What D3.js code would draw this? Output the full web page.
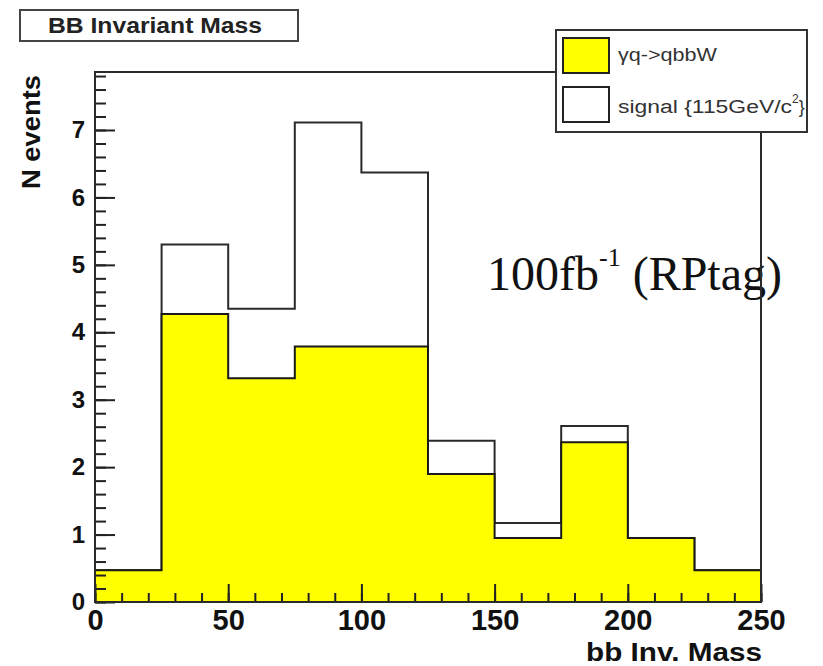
<!DOCTYPE html>
<html>
<head>
<meta charset="utf-8">
<script src="https://cdn.jsdelivr.net/npm/d3@7"></script>
<style>
  body { margin: 0; background: #fff; }
  svg { display: block; font-family: "Liberation Sans", Arial, sans-serif; }
</style>
</head>
<body>
<div id="chart"></div>
<script>
// bb invariant mass histogram, 25 GeV bins
var binEdges = [0, 25, 50, 75, 100, 125, 150, 175, 200, 225, 250];
var background = [0.47, 4.27, 3.32, 3.79, 3.79, 1.90, 0.95, 2.37, 0.95, 0.47];   // gamma q -> qbbW
var signal = [0, 1.03, 1.03, 3.32, 2.58, 0.49, 0.22, 0.24, 0, 0];             // stacked on top
var xTickLabels = [0, 50, 100, 150, 200, 250];
var yTickLabels = [0, 1, 2, 3, 4, 5, 6, 7];
var legendLabels = ["\u03b3q->qbbW", "signal {115GeV/c"];

var W = 823, H = 666;
var frame = { left: 95, right: 761, top: 72, bottom: 602 };

var svg = d3.select("#chart").append("svg")
    .attr("width", W).attr("height", H);

var x = d3.scaleLinear().domain([0, 250]).range([frame.left, frame.right]);
var y = d3.scaleLinear().domain([0, 7.86]).range([frame.bottom, frame.top]);

// step points: one per lower edge plus the closing edge
function steps(values) {
    var pts = values.map(function(v, i) { return { e: binEdges[i], v: v }; });
    pts.push({ e: binEdges[binEdges.length - 1], v: values[values.length - 1] });
    return pts;
}
var total = background.map(function(b, i) { return b + signal[i]; });

var area = d3.area()
    .x(function(d) { return x(d.e); })
    .y0(y(0))
    .y1(function(d) { return y(d.v); })
    .curve(d3.curveStepAfter);

svg.append("path").datum(steps(total))
    .attr("d", area).attr("fill", "#fff")
    .attr("stroke", "#2a2a2a").attr("stroke-width", 2);
svg.append("path").datum(steps(background))
    .attr("d", area).attr("fill", "#ffff00")
    .attr("stroke", "#1a1a1a").attr("stroke-width", 2);

// axes, ticks pointing into the frame
var yMinor = svg.append("g").attr("transform", "translate(" + frame.left + ",0)")
    .call(d3.axisLeft(y).tickValues(y.ticks(40)).tickSize(-11).tickFormat(""));
var yMajor = svg.append("g").attr("transform", "translate(" + frame.left + ",0)")
    .call(d3.axisLeft(y).tickValues(yTickLabels).tickSize(-20).tickPadding(10).tickFormat(d3.format("d")));
var xMinor = svg.append("g").attr("transform", "translate(0," + frame.bottom + ")")
    .call(d3.axisBottom(x).tickValues(x.ticks(25)).tickSize(-9).tickFormat(""));
var xMajor = svg.append("g").attr("transform", "translate(0," + frame.bottom + ")")
    .call(d3.axisBottom(x).tickValues(xTickLabels).tickSize(-18).tickPadding(7).tickFormat(d3.format("d")));

[yMinor, yMajor, xMinor, xMajor].forEach(function(g) {
    g.selectAll(".domain").remove();
    g.selectAll(".tick line").attr("stroke", "#222").attr("stroke-width", 2);
});
yMajor.selectAll(".tick text")
    .attr("font-size", 24).attr("font-weight", "bold").attr("fill", "#111")
    .attr("font-family", "Liberation Sans, Arial, sans-serif");
xMajor.selectAll(".tick text")
    .attr("font-size", 29).attr("font-weight", "bold").attr("fill", "#111")
    .attr("font-family", "Liberation Sans, Arial, sans-serif");

// luminosity note
var note = svg.append("text")
    .attr("x", 487).attr("y", 290)
    .attr("font-family", "Liberation Serif, Times New Roman, serif")
    .attr("font-size", 48).attr("fill", "#111");
note.append("tspan").text("100fb");
note.append("tspan").attr("font-size", 26).attr("dy", -24).text("-1");
note.append("tspan").attr("dy", 24).text(" (RPtag)");

// frame
svg.append("path")
    .attr("d", "M" + frame.left + "," + frame.bottom + "V" + frame.top + "H" + frame.right + "V" + frame.bottom + "H" + frame.left)
    .attr("fill", "none").attr("stroke", "#2a2a2a").attr("stroke-width", 2);

// axis titles
svg.append("text")
    .attr("transform", "translate(40,75) rotate(-90)")
    .attr("text-anchor", "end")
    .attr("font-size", 25).attr("font-weight", "bold").attr("fill", "#111")
    .attr("textLength", 114).attr("lengthAdjust", "spacingAndGlyphs")
    .text("N events");
svg.append("text")
    .attr("x", 762).attr("y", 661)
    .attr("text-anchor", "end")
    .attr("font-size", 26).attr("font-weight", "bold").attr("fill", "#111")
    .attr("textLength", 176).attr("lengthAdjust", "spacingAndGlyphs")
    .text("bb Inv. Mass");

// title box
svg.append("rect").attr("x", 20).attr("y", 10).attr("width", 278).attr("height", 31)
    .attr("fill", "#fff").attr("stroke", "#444").attr("stroke-width", 2);
svg.append("text").attr("x", 48).attr("y", 33)
    .attr("font-size", 22).attr("font-weight", "bold").attr("fill", "#222")
    .attr("textLength", 214).attr("lengthAdjust", "spacingAndGlyphs")
    .text("BB Invariant Mass");

// legend
var legend = svg.append("g");
legend.append("clipPath").attr("id", "legclip")
    .append("rect").attr("x", 556).attr("y", 30).attr("width", 250).attr("height", 102);
legend.append("rect").attr("x", 556).attr("y", 30).attr("width", 251).attr("height", 102)
    .attr("fill", "#fff").attr("stroke", "#333").attr("stroke-width", 2);
var swatch = ["#ffff00", "#fff"];
var labelWidth = [99, 174];
legendLabels.forEach(function(lbl, i) {
    legend.append("rect")
        .attr("x", 563).attr("y", 38 + i * 49).attr("width", 46).attr("height", 35)
        .attr("fill", swatch[i]).attr("stroke", "#222").attr("stroke-width", 2);
    var t = legend.append("text")
        .attr("x", 618).attr("y", 61 + i * 52)
        .attr("clip-path", "url(#legclip)")
        .attr("font-size", 18).attr("fill", "#333");
    t.append("tspan").attr("textLength", labelWidth[i]).attr("lengthAdjust", "spacingAndGlyphs").text(lbl);
    if (i == 1) {
        t.append("tspan").attr("font-size", 12).attr("dy", -10).text("2");
        t.append("tspan").attr("dy", 10).text("}");
    }
});
</script>
</body>
</html>
